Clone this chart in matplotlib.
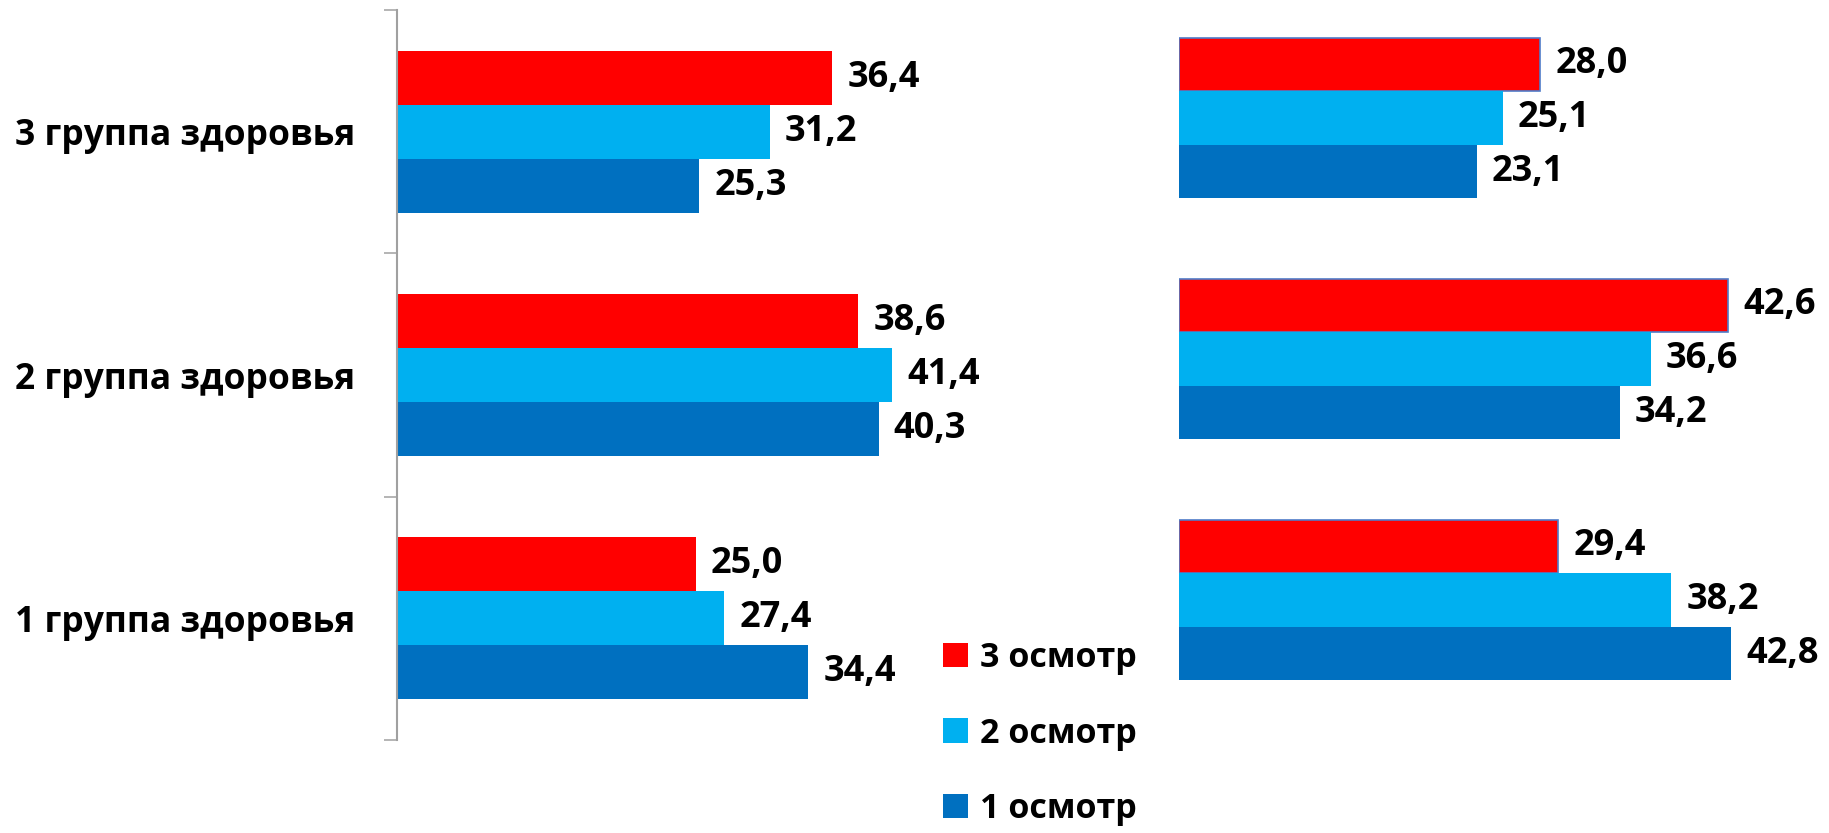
import matplotlib.pyplot as plt
from matplotlib.patches import Patch
import numpy as np

plt.rcParams['font.family'] = ['Open Sans', 'DejaVu Sans']
plt.rcParams['font.weight'] = 'bold'

groups = ['1 группа здоровья', '2 группа здоровья', '3 группа здоровья']
series = ['3 осмотр', '2 осмотр', '1 осмотр']
colors = ['#FF0000', '#00B0F0', '#0070C0']

# values listed bottom group -> top group
left_3 = [25.0, 38.6, 36.4]
left_2 = [27.4, 41.4, 31.2]
left_1 = [34.4, 40.3, 25.3]

right_3 = [29.4, 42.6, 28.0]
right_2 = [38.2, 36.6, 25.1]
right_1 = [42.8, 34.2, 23.1]

W, H = 1829, 833
fig = plt.figure(figsize=(W / 100, H / 100), dpi=100)


def fmt(v):
    return f'{v:.1f}'.replace('.', ',')


def draw(ax, vals, outline_red=False):
    y = np.arange(len(groups))
    h = 0.222
    offs = [h, 0, -h]
    for vs, off, c in zip(vals, offs, colors):
        if outline_red and c == '#FF0000':
            bars = ax.barh(y + off, vs, height=h, color=c, edgecolor='#4F7CC8', linewidth=1.2)
        else:
            bars = ax.barh(y + off, vs, height=h, color=c, linewidth=0)
        ax.bar_label(bars, labels=[fmt(v) for v in vs], padding=11,
                     fontsize=26, fontweight='bold', color='black')
    ax.set_xlim(0, 50)
    ax.set_ylim(-0.5, 2.5)
    ax.set_xticks([])


# left chart
ax1 = fig.add_axes([397 / W, (H - 740) / H, 597.5 / W, 730 / H])
draw(ax1, [left_3, left_2, left_1])
for s in ['top', 'right', 'bottom']:
    ax1.spines[s].set_visible(False)
ax1.spines['left'].set_color('#A0A0A0')
ax1.spines['left'].set_linewidth(1.5)
ax1.set_yticks(np.arange(len(groups)))
ax1.set_yticklabels(groups, fontsize=25.5, fontweight='bold')
ax1.tick_params(axis='y', which='major', length=0, pad=30)
ax1.set_yticks([-0.5, 0.5, 1.5, 2.5], minor=True)
ax1.tick_params(axis='y', which='minor', length=9.5, width=1.1, color='#A0A0A0')

# right chart
ax2 = fig.add_axes([1179 / W, (H - 720.5) / H, 644.5 / W, 723 / H])
draw(ax2, [right_3, right_2, right_1], outline_red=True)
ax2.set_yticks([])
for s in ax2.spines.values():
    s.set_visible(False)

handles = [Patch(facecolor=c, edgecolor='none') for c in colors]
fig.legend(handles, series, loc='upper left', bbox_to_anchor=(943 / W, 1 - 641 / H),
           frameon=False, prop={'weight': 'bold', 'size': 24.5},
           handlelength=0.72, handleheight=0.72, handletextpad=0.38,
           labelspacing=1.22, borderpad=0, borderaxespad=0)

fig.savefig('out.png', dpi=100)
